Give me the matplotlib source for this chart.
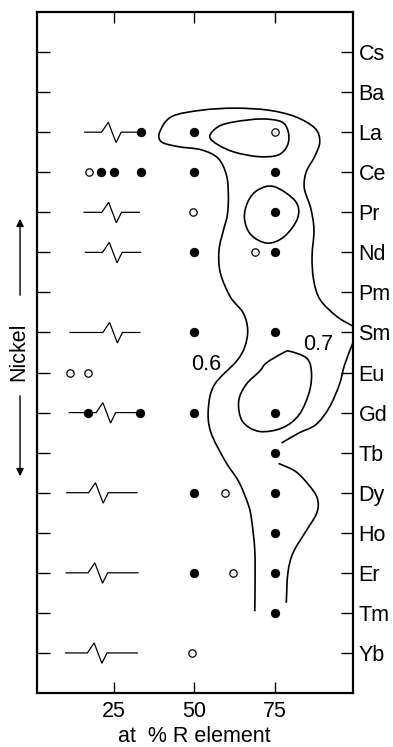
import numpy as np
import matplotlib
matplotlib.use("Agg")
import matplotlib.pyplot as plt
from matplotlib.path import Path
from matplotlib.patches import PathPatch

plt.rcParams['font.family'] = ['Liberation Sans', 'DejaVu Sans']

# ---------------- data ----------------
elements = ['Cs', 'Ba', 'La', 'Ce', 'Pr', 'Nd', 'Pm', 'Sm', 'Eu', 'Gd',
            'Tb', 'Dy', 'Ho', 'Er', 'Tm', 'Yb']
x_ticks = [25, 50, 75]

filled_el = ['La', 'La', 'Ce', 'Ce', 'Ce', 'Ce', 'Ce', 'Pr', 'Nd', 'Nd',
             'Sm', 'Sm', 'Gd', 'Gd', 'Gd', 'Gd', 'Tb', 'Dy', 'Dy', 'Ho',
             'Er', 'Er', 'Tm']
filled_x = [33.5, 50, 21, 25, 33.5, 50, 75, 75, 50, 75,
            50, 75, 17, 33, 50, 75, 75, 50, 75, 75,
            50, 75, 75]

open_el = ['La', 'Ce', 'Pr', 'Nd', 'Eu', 'Eu', 'Dy', 'Er', 'Yb']
open_x = [75, 17.4, 49.5, 69, 11.3, 17, 59.4, 62, 49.3]

# two-phase (broken line) symbols
zig_el = ['La', 'Pr', 'Nd', 'Sm', 'Gd', 'Dy', 'Er', 'Yb']
zig_from = [16.0, 15.8, 16.2, 11.4, 11.2, 10.4, 10.2, 10.0]
zig_at = [21.2, 21.3, 21.5, 21.6, 19.5, 17.2, 17.0, 16.8]
zig_to = [33.5, 32.9, 33.3, 33.1, 33.0, 32.2, 32.5, 32.3]
zig_dx = [0, 2.1, 4.5, 6.1]
zig_dy = [0, -0.25, 0.26, 0]

# contour lines (x in at %, y in element row index)
c06_x = [99.5, 94.3, 89.1, 87.1, 86.6, 87.2, 86.2, 84.2, 84.8, 87.4, 89.0, 87.5,
         81.3, 73.0, 62.7, 52.3, 43.0, 39.3, 39.8, 45.0, 52.2, 57.4, 60.0, 60.6,
         60.3, 59.1, 57.7, 58.1, 61.2, 65.2, 66.6, 65.7, 63.1, 56.3, 54.4, 55.1,
         59.7, 63.8, 66.8, 67.8, 68.8, 68.9, 68.8]
c06_y = [6.85, 6.60, 6.18, 5.69, 5.10, 4.44, 3.90, 3.40, 2.99, 2.61, 2.24, 1.90,
         1.61, 1.45, 1.40, 1.45, 1.61, 1.99, 2.24, 2.36, 2.44, 2.65, 3.07, 3.57,
         4.06, 4.44, 4.94, 5.51, 6.11, 6.51, 6.93, 7.36, 7.72, 8.30, 8.88, 9.48,
         10.22, 10.72, 11.30, 11.67, 12.42, 13.24, 13.96]

la_loop_x = [54.8, 57.5, 62.6, 70.9, 77.1, 79.2, 79.0, 76.1, 69.9, 62.6, 57.5]
la_loop_y = [2.11, 1.86, 1.74, 1.67, 1.74, 1.99, 2.32, 2.57, 2.61, 2.50, 2.32]

pr_loop_x = [74.9, 81.5, 82.1, 77.9, 72.7, 67.6, 65.6, 66.7, 69.8]
pr_loop_y = [3.36, 3.73, 4.15, 4.61, 4.77, 4.56, 4.15, 3.73, 3.44]

gd_loop_x = [79.7, 84.9, 86.4, 85.8, 82.6, 77.4, 70.2, 65.0, 63.8, 66.1, 70.3, 72.4, 77.6]
gd_loop_y = [7.47, 7.64, 7.97, 8.47, 9.05, 9.38, 9.47, 9.22, 8.72, 8.30, 7.97, 7.76, 7.51]

c07a_x = [99.5, 96.7, 95.1, 91.9, 87.8, 82.5, 77.1]
c07a_y = [7.22, 7.81, 8.30, 8.88, 9.30, 9.51, 9.76]
c07b_x = [76.2, 81.5, 85.5, 88.2, 88.1, 84.4, 80.7, 79.1, 78.6]
c07b_y = [10.27, 10.47, 10.80, 11.13, 11.50, 12.00, 12.50, 13.00, 13.75]

contour_labels = ['0.6', '0.7']
contour_label_x = [53.8, 88.6]
contour_label_y = [7.81, 7.31]

# ---------------- drawing ----------------
row = {e: i for i, e in enumerate(elements)}
FS = 15.5


def smooth_path(xs, ys, closed):
    P = np.column_stack([xs, ys]).astype(float)
    n = len(P)
    if closed:
        E = np.vstack([P[-1], P, P[0], P[1]])
        nseg = n
    else:
        E = np.vstack([P[0], P, P[-1]])
        nseg = n - 1
    verts = [P[0]]
    codes = [Path.MOVETO]
    for i in range(nseg):
        p0, p1, p2, p3 = E[i], E[i + 1], E[i + 2], E[i + 3]
        verts += [p1 + (p2 - p0) / 6.0, p2 - (p3 - p1) / 6.0, p2]
        codes += [Path.CURVE4] * 3
    return Path(np.array(verts), codes)


fig = plt.figure(figsize=(3.93, 7.47), dpi=100)
ax = fig.add_axes([0.093, 0.0723, 0.805, 0.9116])
ax.set_xlim(1, 99.3)
ax.set_ylim(16, -1)

lw_c = 1.2
for xs, ys, closed in [(c06_x, c06_y, False), (la_loop_x, la_loop_y, True),
                       (pr_loop_x, pr_loop_y, True), (gd_loop_x, gd_loop_y, True),
                       (c07a_x, c07a_y, False), (c07b_x, c07b_y, False)]:
    ax.add_patch(PathPatch(smooth_path(xs, ys, closed), fill=False, lw=lw_c,
                           edgecolor='black', transform=ax.transData))

for el, x0, xz, x1 in zip(zig_el, zig_from, zig_at, zig_to):
    r = row[el]
    xs = [x0] + [xz + d for d in zig_dx] + [x1]
    ys = [r] + [r + d for d in zig_dy] + [r]
    ax.plot(xs, ys, color='black', lw=0.9, solid_joinstyle='miter')

ax.plot(filled_x, [row[e] for e in filled_el], 'o', ms=5.7, color='black',
        mec='black', zorder=5)
ax.plot(open_x, [row[e] for e in open_el], 'o', ms=5.3, mfc='white',
        mec='black', mew=0.9, zorder=5)

for t, x, y in zip(contour_labels, contour_label_x, contour_label_y):
    ax.text(x, y, t, fontsize=FS, ha='center', va='center')

ax.set_xticks(x_ticks)
ax.set_xticklabels([str(v) for v in x_ticks])
ax.set_yticks(range(len(elements)))
ax.set_yticklabels(elements)
ax.tick_params(axis='y', left=True, right=True, labelleft=False, labelright=True,
               direction='in', length=9, width=1.0, labelsize=FS, pad=4)
ax.tick_params(axis='x', top=True, bottom=True, direction='in', length=8,
               width=1.0, labelsize=FS, pad=6)
for s in ax.spines.values():
    s.set_linewidth(1.6)
ax.set_xlabel('at  % R element', fontsize=FS, labelpad=3)

# Nickel label with arrows
fig.text(0.048, 1 - 352 / 747, 'Nickel', rotation=90, fontsize=FS,
         ha='center', va='center')
fig.add_artist(matplotlib.patches.FancyArrowPatch(
    (0.051, 1 - 298 / 747), (0.051, 1 - 216 / 747), transform=fig.transFigure,
    arrowstyle='-|>', mutation_scale=11, lw=1.0, color='black'))
fig.add_artist(matplotlib.patches.FancyArrowPatch(
    (0.051, 1 - 393 / 747), (0.051, 1 - 479 / 747), transform=fig.transFigure,
    arrowstyle='-|>', mutation_scale=11, lw=1.0, color='black'))

fig.savefig('out.png', dpi=100)
